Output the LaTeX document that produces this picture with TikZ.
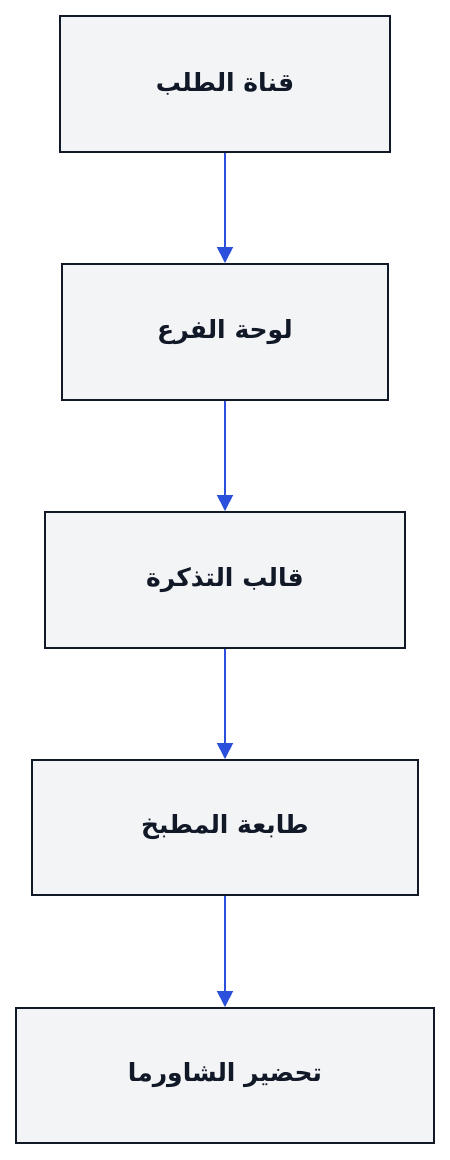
\documentclass[tikz,border=0pt]{standalone}
\usepackage{fontspec}
\newfontfamily\arabicfont[Script=Arabic]{DejaVu Sans}
\TeXXeTstate=1
\usetikzlibrary{arrows.meta}
\definecolor{boxfill}{HTML}{F3F4F6}
\definecolor{boxline}{HTML}{111827}
\definecolor{arrowblue}{HTML}{2B50DB}
\begin{document}
\begin{tikzpicture}[x=1pt,y=-1pt,
  stepbox/.style={draw=boxline,fill=boxfill,line width=2pt,minimum height=136pt,inner sep=0pt,
    font=\arabicfont\bfseries\fontsize{25}{30}\selectfont,text=boxline},
  flow/.style={draw=arrowblue,line width=1.6pt,-{Triangle[length=16pt,width=16pt]}}]
\useasboundingbox (0,0) rectangle (450,1160);
\node[stepbox,minimum width=330pt] (a) at (225,84) {\beginR قناة الطلب\endR};
\node[stepbox,minimum width=326pt] (b) at (225,332) {\beginR لوحة الفرع\endR};
\node[stepbox,minimum width=360pt] (c) at (225,580) {\beginR قالب التذكرة\endR};
\node[stepbox,minimum width=386pt,minimum height=135pt] (d) at (225,827.5) {\beginR طابعة المطبخ\endR};
\node[stepbox,minimum width=418pt,minimum height=135pt] (e) at (225,1075.5) {\beginR تحضير الشاورما\endR};
\draw[flow] (a) -- (b);
\draw[flow] (b) -- (c);
\draw[flow] (c) -- (d);
\draw[flow] (d) -- (e);
\end{tikzpicture}
\end{document}
